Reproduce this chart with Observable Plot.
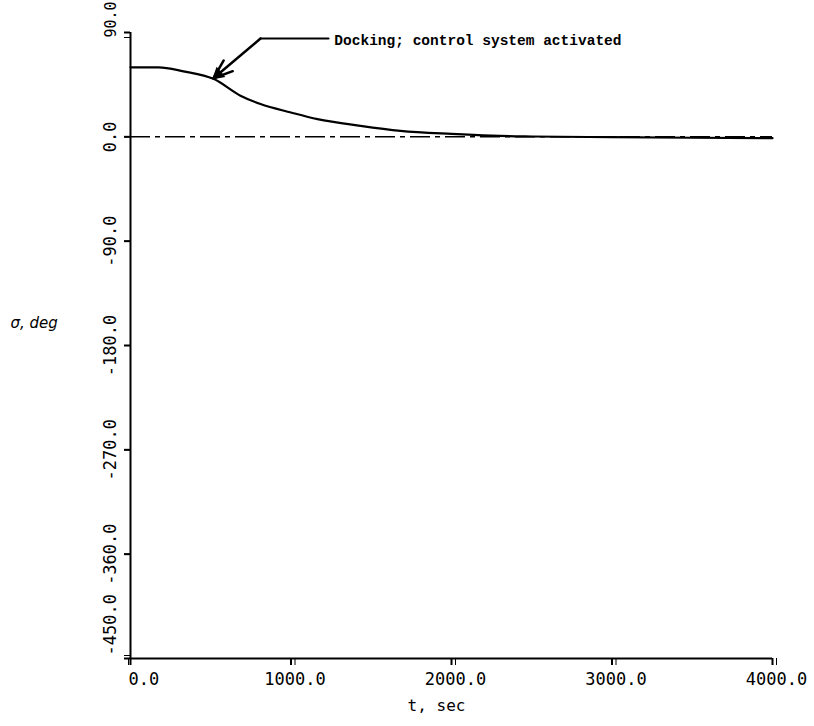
<!DOCTYPE html>
<html>
<head>
<meta charset="utf-8">
<script src="https://cdn.jsdelivr.net/npm/d3@7"></script>
<script src="https://cdn.jsdelivr.net/npm/@observablehq/plot@0.6"></script>
<style>
  html, body { margin: 0; padding: 0; background: #fff; }
  #chart { width: 814px; height: 726px; }
</style>
</head>
<body>
<div id="chart"></div>
<script>
// Time (s) and sigma (deg)
const tSec     = [0, 175, 330, 517, 685, 810, 1000, 1165, 1433, 1682, 2000, 2250, 2500, 3000, 3500, 4000];
const sigmaDeg = [60, 60, 56.5, 50, 35.5, 28.3, 21, 15.3, 9.5, 5.2, 2.5, 1.0, 0.3, -0.3, -0.8, -1.2];

// Axis ticks (end ticks get their labels anchored at the tick)
const xTicks = [0, 1000, 2000, 3000, 4000];
const xTicksMid = [1000, 2000, 3000, 4000];
const xTicksStart = [0];
const yTicks = [90, 0, -90, -180, -270, -360, -450];
const yTicksMid = [0, -90, -180, -270, -360];
const yTicksTop = [90];
const yTicksBottom = [-450];

// Callout: leader line (end -> bend) and arrow (bend -> tip), plus text anchor
const calloutT   = [1234, 810, 517];
const calloutDeg = [84.8, 84.8, 50.5];
const arrowHeadPos = {t: 545, deg: 53.8};
const calloutText = ["Docking; control system activated"];
const calloutTextPos = {t: 1270, deg: 83.5};

const xLabel = ["t, sec"];
const yLabel = ["σ, deg"];

const curve = tSec.map((t, i) => ({t, s: sigmaDeg[i]}));
const leader = [0, 1].map(i => ({t: calloutT[i], s: calloutDeg[i]}));
const arrow = [{t1: calloutT[1], s1: calloutDeg[1], t2: calloutT[2], s2: calloutDeg[2]}];
const fmt = d => d.toFixed(1);

const plot = Plot.plot({
  width: 814,
  height: 726,
  marginLeft: 130,
  marginRight: 42,
  marginTop: 32,
  marginBottom: 68,
  style: {background: "#fff", color: "#000", fontFamily: "'DejaVu Sans Mono', monospace", fontSize: "17px"},
  x: {domain: [0, 4000]},
  y: {domain: [-450, 90]},
  marks: [
    Plot.ruleY([0], {stroke: "#000", strokeWidth: 1.5, strokeDasharray: "20,5,5,5"}),
    Plot.ruleX([0], {stroke: "#000", strokeWidth: 2}),
    Plot.ruleY([-450], {stroke: "#000", strokeWidth: 2}),
    Plot.axisX(xTicks, {tickSize: 7, strokeWidth: 2, text: null, label: null}),
    Plot.axisX(xTicksMid, {tickSize: 7, tickPadding: 7, tickFormat: fmt, label: null, fontSize: 17, dx: 4}),
    Plot.axisX(xTicksStart, {tickSize: 7, tickPadding: 7, tickFormat: fmt, label: null, fontSize: 17, textAnchor: "start", dx: -2}),
    Plot.axisY(yTicks, {tickSize: 6, strokeWidth: 2, text: null, label: null}),
    Plot.axisY(yTicksMid, {tickSize: 6, tickPadding: 9, tickRotate: -90, tickFormat: fmt, label: null, fontSize: 17}),
    Plot.axisY(yTicksBottom, {tickSize: 6, tickPadding: 9, tickRotate: -90, tickFormat: fmt, label: null, fontSize: 17, textAnchor: "start", dy: -3}),
    Plot.axisY(yTicksTop, {tickSize: 6, tickPadding: 9, tickRotate: -90, tickFormat: fmt, label: null, fontSize: 15, textAnchor: "start", dy: 5}),
    Plot.line(curve, {x: "t", y: "s", stroke: "#000", strokeWidth: 2.2, curve: "monotone-x"}),
    Plot.line(leader, {x: "t", y: "s", stroke: "#000", strokeWidth: 2}),
    Plot.arrow(arrow, {x1: "t1", y1: "s1", x2: "t2", y2: "s2", stroke: "#000", strokeWidth: 2.5, headLength: 13, headAngle: 40}),
    Plot.dot([arrowHeadPos], {x: "t", y: "deg", symbol: "triangle", r: 5, fill: "#000", rotate: 230}),
    Plot.text(calloutText, {x: () => calloutTextPos.t, y: () => calloutTextPos.deg, text: d => d, textAnchor: "start",
      fontFamily: "'Liberation Mono', 'Courier New', monospace", fontWeight: "bold", fontSize: 14.5, fill: "#000"}),
    Plot.text(xLabel, {frameAnchor: "bottom", dx: -15, dy: 52, text: d => d, fontSize: 16, fill: "#000"}),
    Plot.text(yLabel, {frameAnchor: "left", dx: -120, dy: -22, text: d => d, textAnchor: "start",
      fontFamily: "'DejaVu Sans', sans-serif", fontStyle: "italic", fontSize: 15, fill: "#000"})
  ]
});
document.getElementById("chart").appendChild(plot);
</script>
</body>
</html>
